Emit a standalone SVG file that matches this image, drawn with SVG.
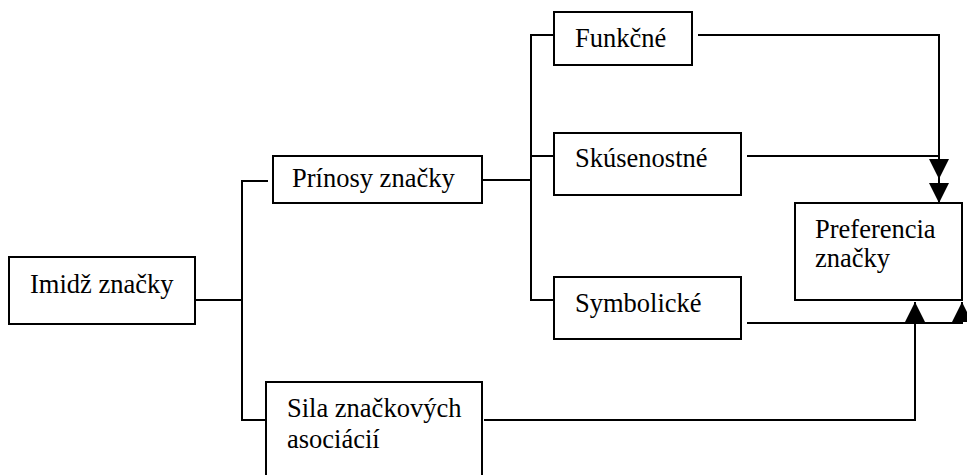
<svg xmlns="http://www.w3.org/2000/svg" width="967" height="475" viewBox="0 0 967 475">
<style>
rect.box{fill:#fff;stroke:#000;stroke-width:2}
text{font-family:'Liberation Serif','Times New Roman',serif;font-size:26.5px;fill:#000}
.conn path{fill:none;stroke:#000;stroke-width:2}
.arr{marker-end:url(#ah)}
</style>
<defs>
<marker id="ah" markerUnits="userSpaceOnUse" markerWidth="20" markerHeight="20" refX="20" refY="10" orient="auto" viewBox="0 0 20 20">
<path d="M0,0 L20,10 L0,20 z" fill="#000"/>
</marker>
</defs>
<rect width="967" height="475" fill="#fff"/>
<g class="conn" id="connectors">
<path d="M195,300 H242"/>
<path d="M268,181 H242 V420 H266"/>
<path d="M482,180 H531"/>
<path d="M554,35 H531 V300 H554"/>
<path d="M531,156 H554"/>
<path class="arr" d="M698,35 H939 V179"/>
<path class="arr" d="M747,156 H939 V203"/>
<path class="arr" d="M747,323 H962 V302"/>
<path class="arr" d="M484,420 H915 V302"/>
</g>
<g id="imidz">
<rect class="box" x="9" y="257" width="186" height="67"/>
<text x="30" y="293">Imidž značky</text>
</g>
<g id="prinosy">
<rect class="box" x="273" y="156" width="209" height="47"/>
<text x="292" y="187">Prínosy značky</text>
</g>
<g id="sila">
<rect class="box" x="266" y="382" width="216" height="100"/>
<text x="287" y="417">Sila značkových</text>
<text x="287" y="448">asociácií</text>
</g>
<g id="funkcne">
<rect class="box" x="554" y="12" width="138" height="53"/>
<text x="575" y="47">Funkčné</text>
</g>
<g id="skusenostne">
<rect class="box" x="554" y="133" width="187" height="62"/>
<text x="575" y="167">Skúsenostné</text>
</g>
<g id="symbolicke">
<rect class="box" x="554" y="277" width="187" height="62"/>
<text x="575" y="312">Symbolické</text>
</g>
<g id="preferencia">
<rect class="box" x="795" y="203" width="167" height="97"/>
<text x="815" y="238">Preferencia</text>
<text x="815" y="267">značky</text>
</g>
</svg>
